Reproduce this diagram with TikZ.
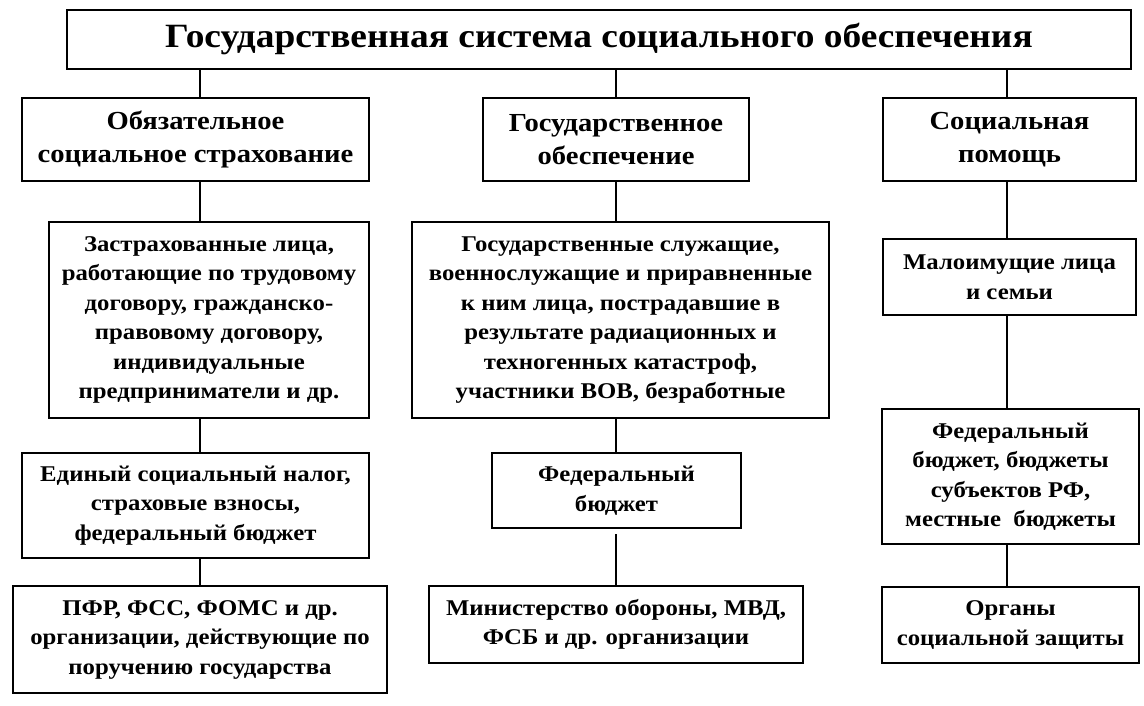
\documentclass[tikz,border=0pt]{standalone}
\usepackage{fontspec}
\setmainfont{Liberation Serif}[FakeStretch=1.1]
\tikzset{
  box/.style={draw=black, line width=2.8pt, fill=white, inner sep=0pt, align=center, font=\bfseries\fontsize{22.5}{29.5}\selectfont},
  hbox/.style={box, font=\bfseries\fontsize{26}{33}\selectfont},
  tbox/.style={box, font=\bfseries\fontsize{34}{40}\selectfont},
  link/.style={line width=2.8pt}
}
\newcommand{\bx}[7]{%
  \pgfmathsetmacro{\bxw}{#4-#2}\pgfmathsetmacro{\bxh}{#5-#3}%
  \pgfmathsetmacro{\bxcx}{(#2+#4)/2}\pgfmathsetmacro{\bxcy}{-(#3+#5)/2}%
  \node[#7, minimum width=\bxw pt, minimum height=\bxh pt] (#1) at (\bxcx pt,\bxcy pt) {#6};}
\begin{document}
\begin{tikzpicture}[x=1pt,y=1pt]
\useasboundingbox (0,0) rectangle (1144,-706);
\fill[white] (0,0) rectangle (1144,-706);
\coordinate (xa) at (200,0);
\coordinate (xb) at (616,0);
\coordinate (xc) at (1007,0);
\bx{top}{67}{10}{1131}{69}{Государственная система социального обеспечения}{tbox}
\bx{b1}{22}{98}{369}{181}{Обязательное\\социальное страхование}{hbox}
\bx{b2}{483}{98}{749}{181}{Государственное\\обеспечение}{hbox}
\bx{b3}{883}{98}{1136}{181}{Социальная\\помощь}{hbox}
\bx{c1}{49}{222}{369}{418}{Застрахованные лица,\\работающие по трудовому\\договору, гражданско-\\правовому договору,\\индивидуальные\\предприниматели и др.}{box}
\bx{c2}{412}{222}{829}{418}{Государственные служащие,\\военнослужащие и приравненные\\к ним лица, пострадавшие в\\результате радиационных и\\техногенных катастроф,\\участники ВОВ, безработные}{box}
\bx{c3}{883}{239}{1136}{315}{Малоимущие лица\\и семьи}{box}
\bx{d1}{22}{453}{369}{558}{Единый социальный налог,\\страховые взносы,\\федеральный бюджет}{box}
\bx{d2}{492}{453}{741}{528}{Федеральный\\бюджет}{box}
\bx{d3}{882}{409}{1139}{544}{Федеральный\\бюджет, бюджеты\\субъектов РФ,\\местные\ \ бюджеты}{box}
\bx{e1}{13}{586}{387}{693}{ПФР, ФСС, ФОМС и др.\\организации, действующие по\\поручению государства}{box}
\bx{e2}{429}{586}{803}{663}{Министерство обороны, МВД,\\ФСБ и др. организации}{box}
\bx{e3}{882}{587}{1139}{663}{Органы\\социальной защиты}{box}
\draw[link] (top.south -| xa) -- (b1.north -| xa);
\draw[link] (top.south -| xb) -- (b2.north -| xb);
\draw[link] (top.south -| xc) -- (b3.north -| xc);
\draw[link] (b1.south -| xa) -- (c1.north -| xa);
\draw[link] (b2.south -| xb) -- (c2.north -| xb);
\draw[link] (b3.south -| xc) -- (c3.north -| xc);
\draw[link] (c1.south -| xa) -- (d1.north -| xa);
\draw[link] (c2.south -| xb) -- (d2.north -| xb);
\draw[link] (c3.south -| xc) -- (d3.north -| xc);
\draw[link] (d1.south -| xa) -- (e1.north -| xa);
\draw[link, shorten <=5pt] (d2.south -| xb) -- (e2.north -| xb);
\draw[link] (d3.south -| xc) -- (e3.north -| xc);
\end{tikzpicture}
\end{document}
